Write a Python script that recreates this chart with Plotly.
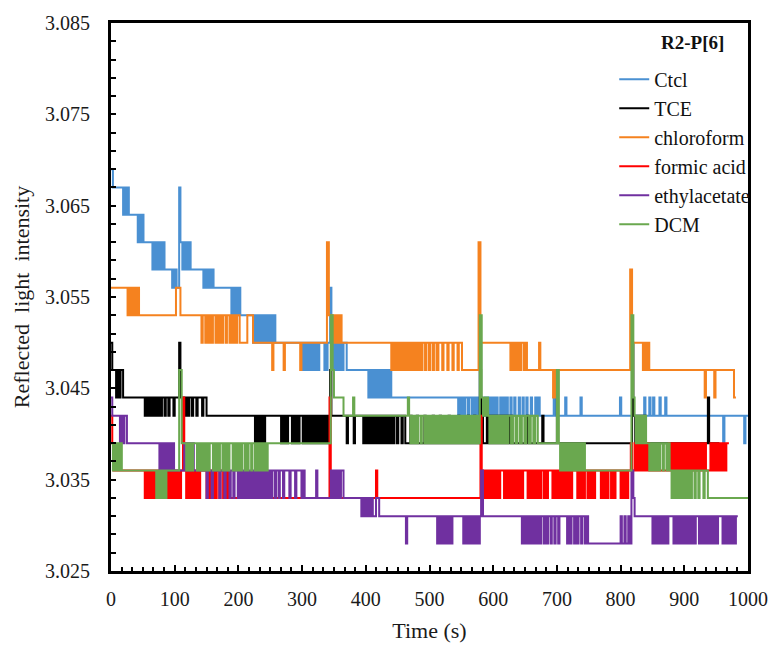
import plotly.graph_objects as go

# Reflected light intensity vs time for R2-P[6]; each series is a list of
# (time in s, level) change points, held until the next point (step trace).
ctcl = [
    (0, 3.069), (3, 3.067), (19, 3.064), (20, 3.067), (22, 3.064), (23, 3.067), (25, 3.064), (26, 3.067),
    (28, 3.064), (42, 3.061), (44, 3.064), (46, 3.061), (48, 3.064), (51, 3.061),
    (65, 3.058), (66, 3.061), (68, 3.058), (69, 3.061), (71, 3.058), (72, 3.061), (74, 3.058), (75, 3.061),
    (77, 3.058), (79, 3.061), (80, 3.058), (82, 3.061), (84, 3.058),
    (96, 3.056), (98, 3.058), (100, 3.056), (101, 3.058), (103, 3.056), (107, 3.067), (109, 3.061),
    (112, 3.058), (114, 3.061), (117, 3.058), (119, 3.061), (122, 3.058), (123, 3.061), (125, 3.058),
    (145, 3.056), (147, 3.058), (149, 3.056), (151, 3.058), (154, 3.056), (156, 3.058), (159, 3.056),
    (160, 3.058), (161, 3.056),
    (189, 3.053), (191, 3.056), (193, 3.053), (195, 3.056), (198, 3.053), (200, 3.056), (203, 3.053),
    (223, 3.050), (224, 3.053), (227, 3.050), (229, 3.053), (231, 3.050), (233, 3.053), (236, 3.050),
    (238, 3.053), (240, 3.050), (241, 3.053), (243, 3.050), (245, 3.053), (247, 3.050), (248, 3.053),
    (250, 3.050), (252, 3.053), (254, 3.050), (256, 3.053), (258, 3.050),
    (300, 3.047), (302, 3.050), (304, 3.047), (306, 3.050), (308, 3.047), (310, 3.050), (312, 3.047),
    (313, 3.050), (316, 3.047), (318, 3.050), (320, 3.047), (322, 3.050), (325, 3.047), (327, 3.050),
    (335, 3.047), (336, 3.050), (339, 3.047), (340, 3.050), (344, 3.056), (346, 3.050),
    (349, 3.047), (351, 3.050), (353, 3.047), (356, 3.050), (358, 3.047), (360, 3.050), (363, 3.047),
    (365, 3.050), (370, 3.047),
    (404, 3.044), (406, 3.047), (408, 3.044), (410, 3.047), (412, 3.044), (414, 3.047), (417, 3.044),
    (419, 3.047), (421, 3.044), (424, 3.047), (426, 3.044), (428, 3.047), (431, 3.044), (433, 3.047),
    (436, 3.044), (438, 3.047), (440, 3.044),
    (545, 3.042), (547, 3.044), (549, 3.042), (552, 3.044), (554, 3.042), (556, 3.044), (560, 3.042),
    (562, 3.044), (566, 3.042), (568, 3.044), (571, 3.042), (573, 3.044), (576, 3.042),
    (579, 3.050), (581, 3.044), (583, 3.042),
    (587, 3.044), (589, 3.042), (591, 3.044), (593, 3.042), (596, 3.044), (598, 3.042), (601, 3.044),
    (603, 3.042), (606, 3.044), (607, 3.042), (611, 3.044), (613, 3.042), (616, 3.044), (618, 3.042),
    (621, 3.044), (623, 3.042), (627, 3.044), (629, 3.042), (633, 3.044), (635, 3.042), (640, 3.044),
    (642, 3.042), (646, 3.044), (648, 3.042), (652, 3.044), (654, 3.042), (659, 3.044), (661, 3.042),
    (666, 3.044), (668, 3.042), (671, 3.044), (673, 3.042),
    (695, 3.044), (697, 3.042), (713, 3.044), (715, 3.042), (737, 3.044), (739, 3.042), (799, 3.044),
    (801, 3.042), (818, 3.044), (820, 3.042), (837, 3.044), (839, 3.042), (845, 3.044), (847, 3.042),
    (851, 3.044), (853, 3.042), (861, 3.044), (863, 3.042), (870, 3.044), (872, 3.042),
    (961, 3.039), (963, 3.042), (994, 3.039), (996, 3.042), (1000, 3.042),
]

tce = [
    (0, 3.050), (2, 3.047), (8, 3.044), (10, 3.047), (13, 3.044), (15, 3.047), (19, 3.044),
    (53, 3.042), (55, 3.044), (57, 3.042), (59, 3.044), (61, 3.042), (63, 3.044), (65, 3.042), (67, 3.044),
    (69, 3.042), (71, 3.044), (73, 3.042), (75, 3.044), (78, 3.042), (80, 3.044), (84, 3.042), (86, 3.044),
    (90, 3.042), (92, 3.044), (98, 3.042), (100, 3.044), (107, 3.050), (109, 3.044),
    (112, 3.042), (114, 3.044), (116, 3.042), (118, 3.044), (121, 3.042), (123, 3.044), (127, 3.042),
    (129, 3.044), (134, 3.042), (136, 3.044), (143, 3.042), (145, 3.044), (150, 3.042),
    (226, 3.039), (228, 3.042), (230, 3.039), (232, 3.042), (235, 3.039), (237, 3.042), (240, 3.039),
    (242, 3.042), (267, 3.039), (269, 3.042), (271, 3.039), (273, 3.042), (276, 3.039), (278, 3.042),
    (284, 3.039), (286, 3.042), (289, 3.039), (291, 3.042), (293, 3.039), (296, 3.042), (301, 3.039),
    (303, 3.042), (306, 3.039), (308, 3.042), (311, 3.039), (313, 3.042), (316, 3.039), (318, 3.042),
    (320, 3.039), (322, 3.042), (325, 3.039), (327, 3.042), (330, 3.039), (332, 3.042), (335, 3.039),
    (337, 3.042), (339, 3.039), (342, 3.042), (344, 3.047), (346, 3.042),
    (370, 3.039), (372, 3.042), (381, 3.039), (383, 3.042), (396, 3.039), (398, 3.042), (400, 3.039),
    (402, 3.042), (404, 3.039), (406, 3.042), (409, 3.039), (411, 3.042), (414, 3.039), (416, 3.042),
    (418, 3.039), (420, 3.042), (423, 3.039), (425, 3.042), (428, 3.039), (430, 3.042), (433, 3.039),
    (435, 3.042), (438, 3.039), (440, 3.042), (443, 3.039), (445, 3.042), (449, 3.039), (451, 3.042),
    (456, 3.039), (458, 3.042), (462, 3.039),
    (470, 3.042), (472, 3.039), (480, 3.042), (482, 3.039), (492, 3.042), (494, 3.039), (505, 3.042),
    (507, 3.039), (516, 3.042), (518, 3.039), (530, 3.042), (532, 3.039), (545, 3.042), (547, 3.039),
    (560, 3.042), (562, 3.039), (570, 3.042), (572, 3.039),
    (579, 3.047), (581, 3.042), (584, 3.039), (590, 3.042), (592, 3.039), (594, 3.042), (596, 3.039),
    (598, 3.042), (600, 3.039), (602, 3.042), (604, 3.039), (606, 3.042), (609, 3.039), (611, 3.042),
    (614, 3.039), (617, 3.042), (620, 3.039), (623, 3.042), (626, 3.039), (628, 3.042), (630, 3.039),
    (653, 3.042), (655, 3.039), (677, 3.042), (679, 3.039), (700, 3.047), (702, 3.039),
    (818, 3.050), (820, 3.042), (823, 3.039), (825, 3.042), (828, 3.039), (831, 3.042), (834, 3.039),
    (837, 3.042), (839, 3.039), (937, 3.044), (939, 3.039), (955, 3.039),
]

chloroform = [
    (0, 3.056), (26, 3.053), (28, 3.056), (30, 3.053), (33, 3.056), (35, 3.053), (37, 3.056), (40, 3.053),
    (42, 3.056), (44, 3.053), (102, 3.056), (109, 3.053),
    (142, 3.050), (144, 3.053), (148, 3.050), (150, 3.053), (152, 3.050), (155, 3.053), (158, 3.050),
    (160, 3.053), (164, 3.050), (166, 3.053), (168, 3.050), (171, 3.053), (174, 3.050), (176, 3.053),
    (180, 3.050), (182, 3.053), (186, 3.050), (188, 3.053), (191, 3.050), (193, 3.053), (196, 3.050),
    (198, 3.053), (202, 3.050), (214, 3.053), (223, 3.050),
    (253, 3.047), (255, 3.050), (271, 3.047), (273, 3.050), (297, 3.047), (299, 3.050),
    (339, 3.061), (342, 3.053), (346, 3.050), (348, 3.053), (351, 3.050), (354, 3.053), (357, 3.050),
    (359, 3.053), (362, 3.050),
    (440, 3.047), (442, 3.050), (444, 3.047), (446, 3.050), (449, 3.047), (451, 3.050), (453, 3.047),
    (455, 3.050), (458, 3.047), (460, 3.050), (462, 3.047), (464, 3.050), (467, 3.047), (469, 3.050),
    (472, 3.047), (474, 3.050), (477, 3.047), (479, 3.050), (482, 3.047), (484, 3.050), (487, 3.047),
    (489, 3.050), (493, 3.047), (495, 3.050), (499, 3.047), (501, 3.050), (505, 3.047), (507, 3.050),
    (511, 3.047), (514, 3.050), (520, 3.047), (522, 3.050), (528, 3.047), (530, 3.050), (536, 3.047),
    (538, 3.050), (544, 3.047), (546, 3.050), (551, 3.047),
    (577, 3.061), (580, 3.050), (627, 3.047), (629, 3.050), (632, 3.047), (634, 3.050), (637, 3.047),
    (639, 3.050), (642, 3.047), (644, 3.050), (648, 3.047), (650, 3.050), (653, 3.047),
    (672, 3.050), (674, 3.047), (694, 3.044), (697, 3.047),
    (815, 3.058), (818, 3.050), (835, 3.047), (837, 3.050), (840, 3.047), (842, 3.050), (845, 3.047),
    (932, 3.044), (934, 3.047), (947, 3.044), (949, 3.047), (978, 3.044), (981, 3.044),
]

formic_acid = [
    (0, 3.042), (2, 3.039), (4, 3.036),
    (53, 3.033), (55, 3.036), (57, 3.033), (59, 3.036), (61, 3.033), (63, 3.036), (65, 3.033), (67, 3.036),
    (69, 3.033), (71, 3.036), (73, 3.033), (75, 3.036), (78, 3.033), (80, 3.036), (83, 3.033), (85, 3.036),
    (88, 3.033), (90, 3.036), (93, 3.033), (95, 3.036), (98, 3.033), (100, 3.036), (103, 3.033),
    (105, 3.036), (108, 3.033), (110, 3.036), (113, 3.044), (115, 3.036),
    (118, 3.033), (120, 3.036), (122, 3.033), (124, 3.036), (127, 3.033), (129, 3.036), (132, 3.033),
    (134, 3.036), (137, 3.033), (140, 3.036), (150, 3.033), (152, 3.036), (154, 3.033), (156, 3.036),
    (158, 3.033), (161, 3.036), (163, 3.033), (166, 3.036), (170, 3.033), (172, 3.036), (176, 3.033),
    (178, 3.036), (180, 3.033), (182, 3.036), (184, 3.033),
    (343, 3.044), (345, 3.033), (416, 3.036), (418, 3.033),
    (580, 3.042), (582, 3.036), (586, 3.033), (588, 3.036), (590, 3.033), (593, 3.036), (595, 3.033),
    (597, 3.036), (599, 3.033), (601, 3.036), (604, 3.033), (606, 3.036), (609, 3.033), (611, 3.036),
    (617, 3.033), (619, 3.036), (621, 3.033), (623, 3.036), (626, 3.033), (628, 3.036), (631, 3.033),
    (633, 3.036), (636, 3.033), (638, 3.036), (640, 3.033), (642, 3.036), (645, 3.033), (647, 3.036),
    (654, 3.033), (656, 3.036), (659, 3.033), (661, 3.036), (663, 3.033), (665, 3.036), (668, 3.033),
    (670, 3.036), (673, 3.033), (675, 3.036), (679, 3.033), (681, 3.036), (684, 3.033), (686, 3.036),
    (693, 3.033), (695, 3.036), (698, 3.033), (700, 3.036), (702, 3.033), (704, 3.036), (707, 3.033),
    (709, 3.036), (712, 3.033), (714, 3.036), (717, 3.033), (719, 3.036), (722, 3.033), (724, 3.036),
    (732, 3.033), (734, 3.036), (737, 3.033), (739, 3.036), (742, 3.033), (744, 3.036), (748, 3.033),
    (750, 3.036), (753, 3.033), (755, 3.036), (758, 3.033), (760, 3.036), (769, 3.033), (771, 3.036),
    (774, 3.033), (776, 3.036), (779, 3.033), (781, 3.036), (785, 3.033), (787, 3.036), (790, 3.033),
    (792, 3.036), (800, 3.033), (802, 3.036), (805, 3.033), (807, 3.036), (810, 3.033), (812, 3.036),
    (816, 3.039), (818, 3.036), (822, 3.039), (824, 3.036), (826, 3.039), (828, 3.036), (830, 3.039),
    (832, 3.036), (834, 3.039), (836, 3.036), (838, 3.039), (840, 3.036), (843, 3.039), (845, 3.036),
    (876, 3.039), (878, 3.036), (880, 3.039), (882, 3.036), (884, 3.039), (886, 3.036), (889, 3.039),
    (891, 3.036), (893, 3.039), (895, 3.036), (898, 3.039), (900, 3.036), (902, 3.039), (904, 3.036),
    (907, 3.039), (909, 3.036), (912, 3.039), (914, 3.036), (917, 3.039), (919, 3.036), (922, 3.039),
    (924, 3.036), (927, 3.039), (929, 3.036), (932, 3.039), (934, 3.036), (941, 3.039), (943, 3.036),
    (946, 3.039), (948, 3.036), (951, 3.039), (953, 3.036), (956, 3.039), (958, 3.036), (961, 3.039),
    (963, 3.036), (966, 3.039), (970, 3.039),
]

ethylacetate = [
    (0, 3.044), (2, 3.042), (14, 3.039), (16, 3.042), (19, 3.039), (21, 3.042), (25, 3.039),
    (76, 3.036), (78, 3.039), (81, 3.036), (83, 3.039), (86, 3.036), (88, 3.039), (91, 3.036), (93, 3.039),
    (96, 3.036), (98, 3.039), (99, 3.036), (115, 3.039), (117, 3.036), (120, 3.039), (123, 3.036),
    (126, 3.039), (130, 3.036),
    (150, 3.033), (152, 3.036), (158, 3.033), (160, 3.036), (170, 3.033), (172, 3.036), (178, 3.033),
    (180, 3.036), (186, 3.033), (188, 3.036), (192, 3.033), (194, 3.036), (199, 3.033), (201, 3.036),
    (204, 3.033), (206, 3.036), (209, 3.033), (211, 3.036), (214, 3.033), (216, 3.036), (219, 3.033),
    (221, 3.036), (223, 3.033), (225, 3.036), (228, 3.033), (230, 3.036), (232, 3.033), (234, 3.036),
    (236, 3.033), (238, 3.036), (241, 3.033), (243, 3.036), (246, 3.033), (248, 3.036), (251, 3.033),
    (253, 3.036), (257, 3.033), (259, 3.036), (263, 3.033), (265, 3.036), (270, 3.033), (272, 3.036),
    (280, 3.033), (282, 3.036), (289, 3.033), (291, 3.036), (299, 3.033), (301, 3.036), (304, 3.033),
    (322, 3.036), (324, 3.033),
    (345, 3.036), (348, 3.033), (350, 3.036), (353, 3.033), (356, 3.036), (359, 3.033), (361, 3.036),
    (365, 3.033), (393, 3.031), (395, 3.033), (397, 3.031), (399, 3.033), (402, 3.031), (404, 3.033),
    (406, 3.031), (409, 3.033), (411, 3.031), (416, 3.033), (421, 3.031),
    (463, 3.028), (465, 3.031), (512, 3.028), (514, 3.031), (516, 3.028), (519, 3.031), (522, 3.028),
    (524, 3.031), (527, 3.028), (530, 3.031), (533, 3.028), (536, 3.031), (553, 3.028), (555, 3.031),
    (557, 3.028), (559, 3.031), (561, 3.028), (563, 3.031), (565, 3.028), (567, 3.031), (569, 3.028),
    (571, 3.031), (573, 3.028), (575, 3.031), (577, 3.028), (579, 3.031), (581, 3.036), (584, 3.031),
    (645, 3.028), (647, 3.031), (649, 3.028), (651, 3.031), (654, 3.028), (656, 3.031), (658, 3.028),
    (660, 3.031), (663, 3.028), (665, 3.031), (668, 3.028), (670, 3.031), (673, 3.028), (675, 3.031),
    (679, 3.028), (681, 3.031), (684, 3.028), (686, 3.031), (690, 3.028), (692, 3.031), (696, 3.028),
    (698, 3.031), (702, 3.028), (704, 3.031), (716, 3.028), (718, 3.031), (721, 3.028), (723, 3.031),
    (727, 3.028), (729, 3.031), (732, 3.028), (734, 3.031), (738, 3.028), (740, 3.031), (744, 3.028),
    (746, 3.031), (749, 3.028),
    (800, 3.031), (802, 3.028), (806, 3.031), (808, 3.028), (812, 3.031), (814, 3.028),
    (817, 3.036), (820, 3.033), (822, 3.031),
    (850, 3.028), (852, 3.031), (854, 3.028), (856, 3.031), (859, 3.028), (861, 3.031), (863, 3.028),
    (865, 3.031), (868, 3.028), (870, 3.031), (873, 3.028), (875, 3.031), (883, 3.028), (885, 3.031),
    (887, 3.028), (889, 3.031), (892, 3.028), (894, 3.031), (897, 3.028), (899, 3.031), (901, 3.028),
    (903, 3.031), (906, 3.028), (908, 3.031), (911, 3.028), (913, 3.031), (916, 3.028), (918, 3.031),
    (923, 3.028), (925, 3.031), (927, 3.028), (929, 3.031), (932, 3.028), (934, 3.031), (937, 3.028),
    (939, 3.031), (941, 3.028), (943, 3.031), (946, 3.028), (948, 3.031), (951, 3.028), (953, 3.031),
    (960, 3.028), (962, 3.031), (965, 3.028), (967, 3.031), (970, 3.028), (972, 3.031), (975, 3.028),
    (977, 3.031), (979, 3.028), (981, 3.031), (984, 3.031),
]

dcm = [
    (0, 3.039), (3, 3.036), (5, 3.039), (8, 3.036), (10, 3.039), (13, 3.036), (15, 3.039), (17, 3.036),
    (71, 3.033), (73, 3.036), (76, 3.033), (78, 3.036), (81, 3.033), (84, 3.036), (86, 3.033), (87, 3.036),
    (107, 3.047), (111, 3.039),
    (118, 3.036), (120, 3.039), (122, 3.036), (124, 3.039), (126, 3.036), (129, 3.039), (135, 3.036),
    (137, 3.039), (139, 3.036), (141, 3.039), (143, 3.036), (146, 3.039), (148, 3.036), (151, 3.039),
    (153, 3.036), (155, 3.039), (160, 3.036), (162, 3.039), (164, 3.036), (166, 3.039), (168, 3.036),
    (171, 3.039), (175, 3.036), (177, 3.039), (179, 3.036), (181, 3.039), (183, 3.036), (186, 3.039),
    (191, 3.036), (193, 3.039), (195, 3.036), (197, 3.039), (199, 3.036), (202, 3.039), (204, 3.036),
    (206, 3.039), (210, 3.036), (212, 3.039), (214, 3.036), (216, 3.039), (220, 3.036), (222, 3.039),
    (226, 3.036), (227, 3.039), (228, 3.036), (229, 3.039), (230, 3.036), (231, 3.039), (232, 3.036),
    (233, 3.039), (234, 3.036), (235, 3.039), (236, 3.036), (237, 3.039), (238, 3.036), (239, 3.039),
    (240, 3.036), (241, 3.039), (242, 3.036), (243, 3.039), (244, 3.036), (246, 3.039),
    (345, 3.053), (348, 3.047), (350, 3.044), (365, 3.042), (380, 3.044), (382, 3.042),
    (466, 3.044), (468, 3.042),
    (470, 3.039), (472, 3.042), (475, 3.039), (477, 3.042), (480, 3.039), (482, 3.042), (486, 3.039),
    (488, 3.042), (492, 3.039), (494, 3.042), (497, 3.039), (499, 3.042), (502, 3.039), (504, 3.042),
    (507, 3.039), (509, 3.042), (512, 3.039), (514, 3.042), (517, 3.039), (519, 3.042), (522, 3.039),
    (524, 3.042), (527, 3.039), (529, 3.042), (532, 3.039), (534, 3.042), (537, 3.039), (539, 3.042),
    (542, 3.039), (544, 3.042), (546, 3.039), (548, 3.042), (550, 3.039), (552, 3.042), (554, 3.039),
    (556, 3.042), (558, 3.039), (560, 3.042), (562, 3.039), (564, 3.042), (567, 3.039), (569, 3.042),
    (572, 3.039), (574, 3.042), (577, 3.039),
    (579, 3.053), (582, 3.044), (584, 3.042), (586, 3.044), (588, 3.042), (590, 3.044), (592, 3.042),
    (594, 3.039), (596, 3.042), (598, 3.039), (601, 3.042), (604, 3.039), (606, 3.042), (609, 3.039),
    (612, 3.042), (615, 3.039), (618, 3.042), (621, 3.039), (624, 3.042), (628, 3.039), (631, 3.042),
    (635, 3.039), (638, 3.042), (642, 3.039), (645, 3.042), (649, 3.039), (652, 3.042), (656, 3.039),
    (659, 3.042), (663, 3.039), (666, 3.042), (670, 3.039),
    (700, 3.047), (703, 3.039), (705, 3.036), (707, 3.039), (709, 3.036), (711, 3.039), (714, 3.036),
    (716, 3.039), (719, 3.036), (721, 3.039), (724, 3.036), (726, 3.039), (729, 3.036), (731, 3.039),
    (734, 3.036), (736, 3.039), (739, 3.036), (741, 3.039), (744, 3.036),
    (817, 3.053), (820, 3.044), (822, 3.042), (824, 3.039), (826, 3.042), (829, 3.039), (832, 3.042),
    (835, 3.039), (838, 3.042), (840, 3.039),
    (845, 3.036), (847, 3.039), (850, 3.036), (852, 3.039), (855, 3.036), (857, 3.039), (860, 3.036),
    (862, 3.039), (866, 3.036), (868, 3.039), (872, 3.036), (874, 3.039), (877, 3.036),
    (880, 3.033), (882, 3.036), (885, 3.033), (887, 3.036), (890, 3.033), (892, 3.036), (895, 3.033),
    (897, 3.036), (900, 3.033), (902, 3.036), (905, 3.033), (907, 3.036), (910, 3.033), (912, 3.036),
    (916, 3.033), (918, 3.036), (922, 3.033), (924, 3.036), (930, 3.033), (932, 3.036), (937, 3.033),
    (1000, 3.033),
]

series_names = ["Ctcl", "TCE", "chloroform", "formic acid", "ethylacetate", "DCM"]
series_data = [ctcl, tce, chloroform, formic_acid, ethylacetate, dcm]
series_colors = ["#4A90D2", "#000000", "#F5821F", "#FF0000", "#7030A0", "#6AA84F"]
legend_heading = "R2-P[6]"

FONT = "Liberation Serif"

fig = go.Figure()
for name, pts, color in zip(series_names, series_data, series_colors):
    fig.add_trace(go.Scatter(
        x=[p[0] for p in pts],
        y=[p[1] for p in pts],
        mode="lines",
        name=name,
        line=dict(color=color, width=2, shape="hv"),
    ))

fig.update_layout(
    width=780,
    height=651,
    margin=dict(l=111, r=23, t=20, b=72),
    paper_bgcolor="white",
    plot_bgcolor="white",
    font=dict(family=FONT, color="#1a1a1a"),
    showlegend=True,
    legend=dict(
        x=0.790, y=0.933, xanchor="left", yanchor="top",
        bgcolor="rgba(0,0,0,0)",
        font=dict(size=20, family=FONT, color="#111111"),
        itemwidth=30,
        tracegroupgap=0,
    ),
    annotations=[dict(
        text=f"<b>{legend_heading}</b>",
        xref="paper", yref="paper", x=0.966, y=0.964,
        xanchor="right", yanchor="middle", showarrow=False,
        font=dict(size=19, family=FONT, color="#111111"),
    )],
)

fig.update_xaxes(
    range=[0, 1000],
    tick0=0, dtick=100,
    ticks="inside", ticklen=6, tickwidth=2, tickcolor="black",
    minor=dict(ticks="inside", ticklen=4, tickwidth=2, tickcolor="black", dtick=100 / 6, tick0=0),
    showline=True, linewidth=3, linecolor="black", mirror=True,
    showgrid=False, zeroline=False,
    tickfont=dict(size=20, family=FONT),
    ticklabelstandoff=8,
    title=dict(text="Time (s)", font=dict(size=22, family=FONT), standoff=14),
)

fig.update_yaxes(
    range=[3.025, 3.085],
    tick0=3.025, dtick=0.01, tickformat=".3f",
    ticks="inside", ticklen=5, tickwidth=2, tickcolor="black",
    minor=dict(ticks="inside", ticklen=5, tickwidth=2, tickcolor="black", dtick=0.002, tick0=3.025),
    showline=True, linewidth=3, linecolor="black", mirror=True,
    showgrid=False, zeroline=False,
    tickfont=dict(size=20, family=FONT),
    ticklabelstandoff=14,
    title=dict(text="Reflected\u00a0 light\u00a0 intensity", font=dict(size=22, family=FONT), standoff=10),
)

fig.write_html("out.html")
